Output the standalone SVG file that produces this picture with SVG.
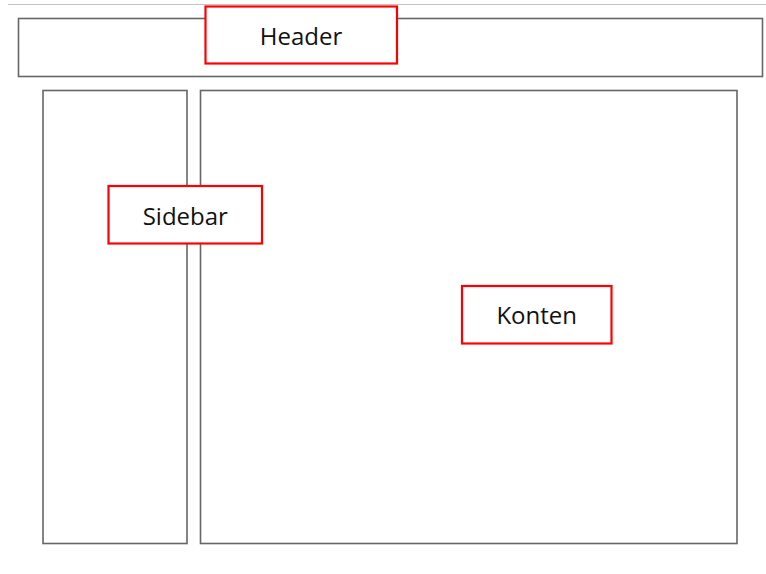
<svg xmlns="http://www.w3.org/2000/svg" width="766" height="574" viewBox="0 0 766 574">
<style>
.area{fill:#fff;stroke:#666;stroke-width:1.6}
.label{fill:#fff;stroke:#f00;stroke-width:2.2}
.t{font-family:"Open Sans","Noto Sans","Liberation Sans",sans-serif;font-size:24px;fill:#111;text-anchor:middle}
</style>
<rect width="766" height="574" fill="#fff"/>
<line x1="8" y1="4.5" x2="766" y2="4.5" stroke="#c4c4c4" stroke-width="1"/>
<g id="header-area"><rect class="area" x="18.5" y="18.5" width="744" height="58"/></g>
<g id="sidebar-area"><rect class="area" x="43" y="90.5" width="144" height="453"/></g>
<g id="content-area"><rect class="area" x="200.5" y="90.5" width="536.5" height="453"/></g>
<g id="header-label"><rect class="label" x="205.5" y="6.5" width="191.5" height="57"/><text class="t" x="301" y="45">Header</text></g>
<g id="sidebar-label"><rect class="label" x="108.5" y="186" width="153.5" height="57.5"/><text class="t" x="185.3" y="225">Sidebar</text></g>
<g id="konten-label"><rect class="label" x="462" y="286" width="149.5" height="57.5"/><text class="t" x="536.7" y="324">Konten</text></g>
<g id="connectors"/>
</svg>
